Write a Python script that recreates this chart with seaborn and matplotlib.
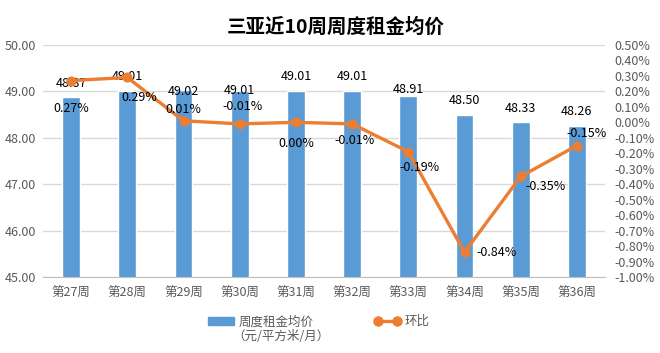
import numpy as np
import pandas as pd
import matplotlib
matplotlib.use('Agg')
import matplotlib.pyplot as plt
import matplotlib.ticker as ticker
from matplotlib.lines import Line2D
from matplotlib.patches import Patch
import seaborn as sns

# data
weeks = ['第27周', '第28周', '第29周', '第30周', '第31周', '第32周', '第33周', '第34周', '第35周', '第36周']
rent = [48.87, 49.01, 49.02, 49.01, 49.01, 49.01, 48.91, 48.50, 48.33, 48.26]
change = [0.27, 0.29, 0.01, -0.01, 0.00, -0.01, -0.19, -0.84, -0.35, -0.15]  # percent

# label offsets (pixels) so the labels don't collide, like the original
rent_off = [(0, 14), (0, 14), (0, -1), (0, 0), (0, 14), (0, 14), (0, 6), (0, 14), (0, 14), (0, 14)]
chg_off = [(0, -28), (12, -20), (0, 11), (3, 17), (0, -21), (2, -17), (11, -16), (32, 0), (25, -10), (10, 12)]

sns.set_style('white')
plt.rcParams['font.family'] = ['Noto Sans CJK SC', 'DejaVu Sans']

blue = '#5B9BD5'
orange = '#ED7D31'
grey = '#595959'

df = pd.DataFrame({'week': weeks, 'rent': rent, 'change': change})

fig = plt.figure(figsize=(6.6, 3.53), dpi=100)
ax = fig.add_axes([43 / 660, 1 - 277 / 353, 562 / 660, 232 / 353])

sns.barplot(data=df, x='week', y='rent', color=blue, width=0.32, saturation=1, ax=ax, zorder=2)
ax.set_ylim(45, 50)
ax.set_xlim(-0.5, len(weeks) - 0.5)
ax.yaxis.set_major_locator(ticker.MultipleLocator(1))
ax.yaxis.set_major_formatter(ticker.FormatStrFormatter('%.2f'))
ax.grid(axis='y', color='#D9D9D9', linewidth=1, zorder=0)
ax.set_axisbelow(True)
ax.set_xlabel('')
ax.set_ylabel('')
for s in ['top', 'left', 'right']:
    ax.spines[s].set_visible(False)
ax.spines['bottom'].set_color('#BFBFBF')
ax.tick_params(axis='both', length=0, labelsize=9, labelcolor=grey)
ax.tick_params(axis='y', pad=5)
ax.tick_params(axis='x', pad=7)

for i, v in enumerate(rent):
    ax.annotate(f'{v:.2f}', (i, v), xytext=rent_off[i], textcoords='offset pixels',
                ha='center', va='center', fontsize=9, color='black', zorder=5)

ax2 = ax.twinx()
xpos = np.arange(len(weeks))
sns.lineplot(x=xpos, y=change, ax=ax2, color=orange, linewidth=2.4,
             marker='o', markersize=6.5, markeredgecolor=orange, zorder=4)
ax2.set_ylim(-1.0, 0.5)
ax2.yaxis.set_major_locator(ticker.MultipleLocator(0.1))
ax2.yaxis.set_major_formatter(ticker.FuncFormatter(lambda v, p: f'{v:.2f}%'))
for s in ['top', 'left', 'right', 'bottom']:
    ax2.spines[s].set_visible(False)
ax2.tick_params(axis='y', length=0, labelsize=9, labelcolor=grey, pad=7)
ax2.set_xlim(-0.5, len(weeks) - 0.5)

for i, v in enumerate(change):
    ax2.annotate(f'{v:.2f}%', (i, v), xytext=chg_off[i], textcoords='offset pixels',
                 ha='center', va='center', fontsize=9, color='black', zorder=5)

fig.text(336 / 660, 1 - 27 / 353, '三亚近10周周度租金均价', ha='center', va='center',
         fontsize=14, fontweight='bold', color='black')

handles = [Patch(facecolor=blue, edgecolor=blue),
           Line2D([0], [0], color=orange, linewidth=2.4, marker='o', markersize=6.5)]
fig.legend(handles, ['周度租金均价', '环比'], loc='upper left', ncol=2, frameon=False,
           bbox_to_anchor=(202 / 660, 1 - 309 / 353), bbox_transform=fig.transFigure,
           borderpad=0, handlelength=2.1, handleheight=0.6, handletextpad=0.3,
           columnspacing=4.9, numpoints=2, prop={'size': 9}, labelcolor=grey)
fig.text(232 / 660, 1 - 337 / 353, '（元/平方米/月）', ha='left', va='center',
         fontsize=9, color=grey)

fig.savefig('out.png', dpi=100)
